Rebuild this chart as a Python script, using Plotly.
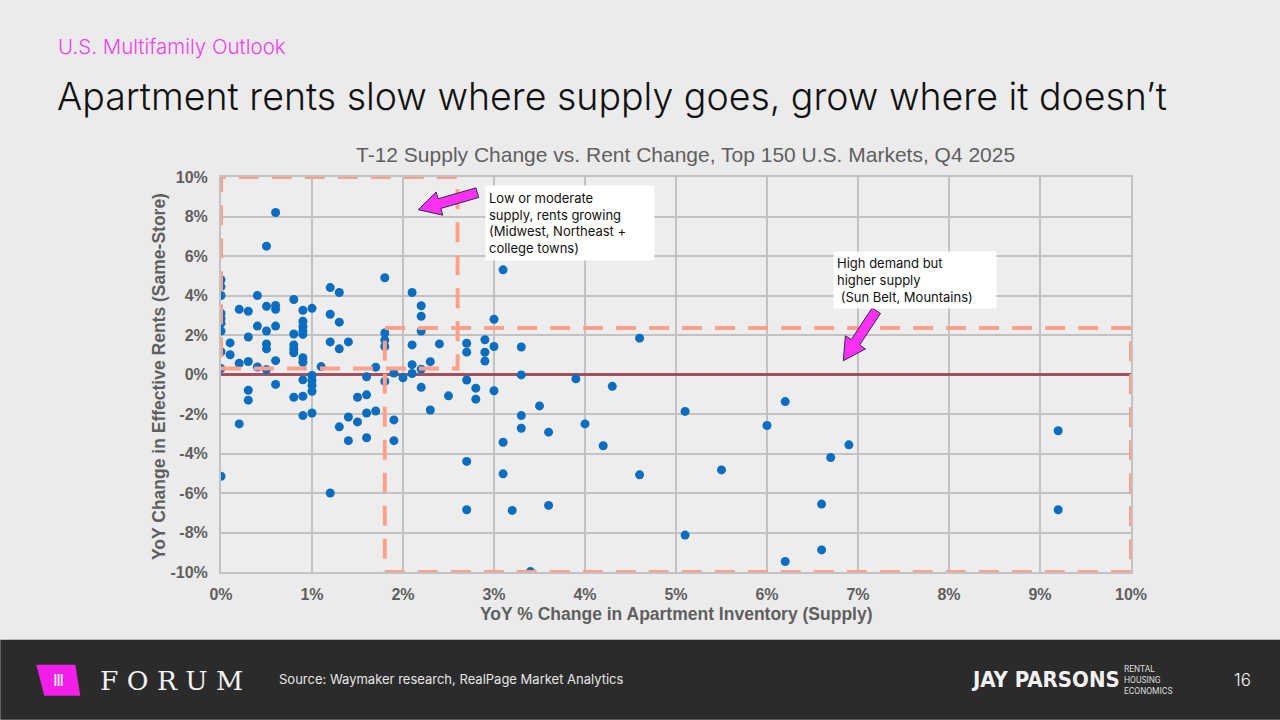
import plotly.graph_objects as go

# === data: YoY supply change (%) and YoY rent change (%) for the top 150 markets ===
supply_chg = [
    0, 0, 0, 0, 0, 0, 0, 0, 0, 0,
    0.1, 0.1,
    0.2, 0.2, 0.2,
    0.3, 0.3, 0.3, 0.3, 0.3,
    0.4, 0.4, 0.4,
    0.5, 0.5, 0.5, 0.5, 0.5, 0.5,
    0.6, 0.6, 0.6, 0.6, 0.6, 0.6,
    0.8, 0.8, 0.8, 0.8, 0.8, 0.8,
    0.9, 0.9, 0.9, 0.9, 0.9, 0.9, 0.9, 0.9, 0.9, 0.9,
    1.0, 1.0, 1.0, 1.0, 1.0, 1.0,
    1.1,
    1.2, 1.2, 1.2, 1.2,
    1.3, 1.3, 1.3, 1.3,
    1.4, 1.4, 1.4,
    1.5, 1.5,
    1.6, 1.6, 1.6, 1.6,
    1.7, 1.7,
    1.8, 1.8, 1.8, 1.8, 1.8,
    1.9, 1.9, 1.9,
    2.0,
    2.1, 2.1, 2.1, 2.1,
    2.2, 2.2, 2.2, 2.2, 2.2,
    2.3, 2.3,
    2.4,
    2.5,
    2.7, 2.7, 2.7, 2.7, 2.7,
    2.8, 2.8,
    2.9, 2.9, 2.9,
    3.0, 3.0, 3.0,
    3.1, 3.1, 3.1,
    3.2,
    3.3, 3.3, 3.3, 3.3,
    3.4,
    3.5,
    3.6, 3.6,
    3.9,
    4.0,
    4.2,
    4.3,
    4.6, 4.6,
    5.1, 5.1,
    5.5,
    6.0,
    6.2, 6.2,
    6.6, 6.6,
    6.7,
    6.9,
    9.2, 9.2,
]
rent_chg = [
    4.8, 4.45, 4.0, 3.1, 2.85, 2.6, 2.2, 1.15, 0.3, -5.15,
    1.6, 1.0,
    3.3, 0.57, -2.5,
    3.2, 1.9, 0.66, -0.8, -1.3,
    4.0, 2.45, 0.38,
    6.5, 3.45, 2.2, 1.55, 1.3, 0.25,
    8.2, 3.5, 3.3, 2.45, 0.7, -0.5,
    3.8, 2.05, 1.5, 1.28, 1.1, -1.15,
    3.25, 2.7, 2.43, 2.2, 2.03, 0.85, 0.62, -0.27, -1.1, -2.08,
    3.35, -0.05, -0.3, -0.55, -0.85, -1.95,
    0.4,
    4.4, 3.05, 1.65, -6.0,
    4.15, 2.65, 1.3, -2.65,
    1.65, -2.15, -3.35,
    -1.15, -2.4,
    -0.12, -1.03, -1.95, -3.2,
    0.37, -1.85,
    4.9, 2.1, 1.75, 1.42, -0.35,
    0.07, -2.3, -3.35,
    -0.17,
    4.15, 1.5, 0.5, 0.05,
    3.48, 2.95, 2.2, 0.27, -0.65,
    0.65, -1.8,
    1.55,
    -1.08,
    1.58, 1.13, -0.28, -4.4, -6.85,
    -0.69, -1.25,
    1.76, 1.13, 0.68,
    2.8, 1.42, -0.82,
    5.3, -3.43, -5.03,
    -6.88,
    1.39, -0.02, -2.08, -2.72,
    -9.98,
    -1.59,
    -2.92, -6.63,
    -0.22,
    -2.5,
    -3.61,
    -0.6,
    1.84, -5.08,
    -1.87, -8.13,
    -4.83,
    -2.58,
    -1.37, -9.47,
    -6.56, -8.88,
    -4.2,
    -3.56,
    -2.85, -6.85,
]

x_ticks = list(range(0, 11))
x_labels = [f"{v}%" for v in x_ticks]
y_ticks = list(range(-10, 11, 2))
y_labels = [f"{v}%" for v in y_ticks]

# zones highlighted on the chart (supply %, rent %)
low_supply_zone = (0, 2.6, 0.3, 10)
high_supply_zone = (1.8, 10, -10, 2.35)

# === page geometry (pixels) ===
W, H = 1280, 720
PL, PR, PT, PB = 220.7, 1130.7, 177.3, 572.3


def px(x):
    return (x - PL) / (PR - PL)


def py(y):
    return (PB - y) / (PB - PT)


def block_arrow(tail, tip, shaft=5, head=12, head_len=22):
    tx, ty = tail
    hx, hy = tip
    d = ((hx - tx) ** 2 + (hy - ty) ** 2) ** 0.5
    ux, uy = (hx - tx) / d, (hy - ty) / d
    nx, ny = -uy, ux
    bx, by = hx - ux * head_len, hy - uy * head_len
    pts = [
        (tx + nx * shaft, ty + ny * shaft),
        (bx + nx * shaft, by + ny * shaft),
        (bx + nx * head, by + ny * head),
        (hx, hy),
        (bx - nx * head, by - ny * head),
        (bx - nx * shaft, by - ny * shaft),
        (tx - nx * shaft, ty - ny * shaft),
    ]
    return "M " + " L ".join(f"{px(a):.5f},{py(b):.5f}" for a, b in pts) + " Z"


fig = go.Figure()

fig.add_trace(go.Scatter(
    x=supply_chg,
    y=rent_chg,
    mode="markers",
    marker=dict(color="#0b6dbf", size=9),
    hoverinfo="x+y",
    showlegend=False,
))

grid = "#c2c2c2"
tick_font = dict(family="Liberation Sans, Arial", size=16, color="#5f5f5f", weight="bold")

fig.update_xaxes(
    range=[0, 10], tickvals=x_ticks, ticktext=x_labels,
    showgrid=True, gridcolor=grid, gridwidth=2,
    showline=True, linecolor=grid, linewidth=2, mirror=True,
    zeroline=False, ticks="", ticklabelstandoff=7, tickfont=tick_font,
)
fig.update_yaxes(
    range=[-10, 10], tickvals=y_ticks, ticktext=y_labels,
    showgrid=True, gridcolor=grid, gridwidth=2,
    showline=True, linecolor=grid, linewidth=2, mirror=True,
    zeroline=True, zerolinecolor="#a2505f", zerolinewidth=3,
    ticks="", ticklabelstandoff=8, tickfont=tick_font,
)

shapes = []
dash_line = dict(color="#ffa08b", width=4, dash="20px,13px")
for x0, x1, y0, y1 in (low_supply_zone, high_supply_zone):
    shapes.append(dict(type="rect", xref="x", yref="y", x0=x0, x1=x1, y0=y0, y1=y1,
                       line=dash_line, fillcolor="rgba(0,0,0,0)", layer="above"))

# pink callout arrows
for tail, tip in (((477, 193), (418, 210)), ((876, 311), (843, 361))):
    shapes.append(dict(type="path", xref="paper", yref="paper", path=block_arrow(tail, tip),
                       fillcolor="#ff30f2", line=dict(color="#2a2a55", width=1), layer="above"))

# footer band
shapes.append(dict(type="rect", xref="paper", yref="paper", x0=px(0), x1=px(W), y0=py(640), y1=py(H),
                   fillcolor="#2b2b2b", line=dict(width=0), layer="above"))
# FORUM logo badge
badge = [(36, 665), (75, 665), (80, 696), (44, 696)]
shapes.append(dict(type="path", xref="paper", yref="paper",
                   path="M " + " L ".join(f"{px(a):.5f},{py(b):.5f}" for a, b in badge) + " Z",
                   fillcolor="#f21fe8", line=dict(width=0), layer="above"))

body_font = "Inter, Noto Sans, sans-serif"
axis_title_font = dict(family="Liberation Sans, Arial", size=17.5, color="#5f5f5f", weight="bold")
annotations = [
    dict(text="U.S. Multifamily Outlook", x=px(56), y=py(47), xanchor="left", yanchor="middle",
         font=dict(family=body_font, size=20.5, color="#f03ff0", weight=300)),
    dict(text="Apartment rents slow where supply goes, grow where it doesn\u2019t", x=px(55), y=py(97),
         xanchor="left", yanchor="middle",
         font=dict(family=body_font, size=37.5, color="#111111", weight=300)),
    dict(text="T-12 Supply Change vs. Rent Change, Top 150 U.S. Markets, Q4 2025", x=px(685), y=py(155),
         xanchor="center", yanchor="middle", font=dict(family="Liberation Sans, Arial", size=21, color="#5f5f5f")),
    dict(text="YoY % Change in Apartment Inventory (Supply)", x=px(676), y=py(614),
         xanchor="center", yanchor="middle", font=axis_title_font),
    dict(text="YoY Change in Effective Rents (Same-Store)", x=px(158), y=py(377), textangle=-90,
         xanchor="center", yanchor="middle", font=axis_title_font),
    dict(text="Low or moderate<br>supply, rents growing<br>(Midwest, Northeast +<br>college towns)",
         x=px(485), y=py(185), xanchor="left", yanchor="top", align="left", width=162, height=68,
         bgcolor="#ffffff", borderpad=3, font=dict(family=body_font, size=13, color="#111111")),
    dict(text="High demand but<br>higher supply<br> (Sun Belt, Mountains)",
         x=px(833), y=py(251), xanchor="left", yanchor="top", align="left", width=156, height=50,
         bgcolor="#ffffff", borderpad=3, font=dict(family=body_font, size=13, color="#111111")),
    dict(text="Source: Waymaker research, RealPage Market Analytics", x=px(277), y=py(679),
         xanchor="left", yanchor="middle", font=dict(family=body_font, size=13, color="#e6e6e6")),
    dict(text="Ⅲ", x=px(58), y=py(681), xanchor="center", yanchor="middle",
         font=dict(family="DejaVu Sans", size=16, color="#ffffff")),
    dict(text="F O R U M", x=px(98), y=py(681), xanchor="left", yanchor="middle",
         font=dict(family="DejaVu Serif", size=26.5, color="#f2f2f2")),
    dict(text="JAY PARSONS", x=px(969), y=py(680), xanchor="left", yanchor="middle",
         font=dict(family="DejaVu Sans Condensed, Liberation Sans Narrow, Roboto Condensed, Roboto", size=22,
                   color="#f2f2f2", weight="bold")),
    dict(text="RENTAL<br>HOUSING<br>ECONOMICS", x=px(1122), y=py(680), xanchor="left", yanchor="middle",
         align="left", font=dict(family="Roboto", size=8.5, color="#dddddd")),
    dict(text="16", x=px(1242), y=py(680), xanchor="center", yanchor="middle",
         font=dict(family=body_font, size=17, color="#f2f2f2", weight=300)),
]
for a in annotations:
    a.setdefault("xref", "paper")
    a.setdefault("yref", "paper")
    a.setdefault("showarrow", False)

fig.update_layout(
    width=W, height=H,
    margin=dict(l=PL, r=W - PR, t=PT, b=H - PB, pad=0),
    paper_bgcolor="#ebebeb",
    plot_bgcolor="#ededed",
    shapes=shapes,
    annotations=annotations,
    showlegend=False,
)

fig.write_html("out.html", config={"displayModeBar": False},
               post_script="document.body.style.margin='0';")
